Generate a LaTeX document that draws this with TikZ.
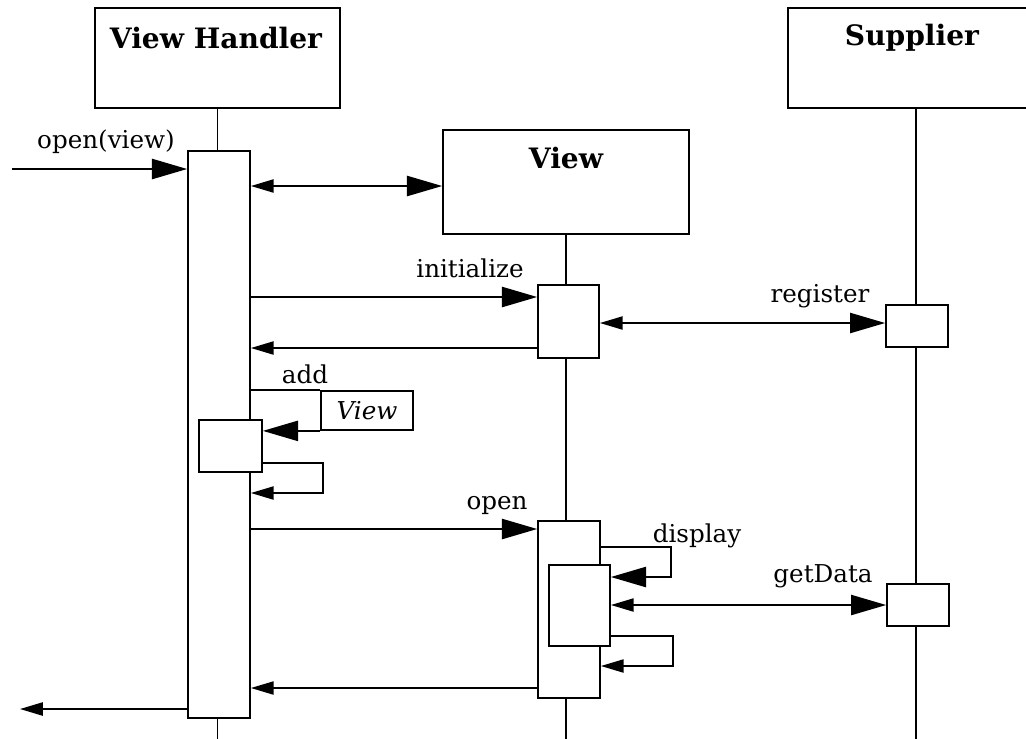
\documentclass[tikz,border=0pt]{standalone}
\usepackage{fontspec}
\setmainfont{DejaVu Serif}
\usetikzlibrary{arrows.meta,fit}
\tikzset{
  obj/.style={draw,line width=1pt,inner sep=0pt},
  act/.style={draw,fill=white,line width=1pt,inner sep=0pt},
  objname/.style={font=\bfseries\fontsize{16}{19}\selectfont},
  msg/.style={font=\fontsize{14}{16}\selectfont,inner sep=0pt},
  life/.style={line width=0.8pt},
  call/.style={line width=1pt,-{Triangle[length=20pt,width=11.5pt]}},
  ret/.style={line width=1pt,-{Triangle[length=13pt,width=7.5pt]}},
  both/.style={line width=1pt,{Triangle[length=13pt,width=7.5pt]}-{Triangle[length=20pt,width=11.5pt]}},
}

\begin{document}
\begin{tikzpicture}[x=0.02cm,y=-0.02cm]
      \useasboundingbox (0,0) rectangle (1026,738);
      % objects
      \node[obj,fit={(95,8) (340,108)}] (vh) {};
      \node[obj,fit={(443,130) (689,234)}] (view) {};
      \node[obj,fit={(788,8) (1044,108)}] (sup) {};
      \node[objname] (vhname) at (216,38) {View Handler};
      \node[objname] (viewname) at (566,158) {View};
      \node[objname] (supname) at (912,38) {Supplier};
      % lifelines
      \draw[life] (vh.south) -- ++(0,630);
      \draw[life] (view.south) -- ++(0,504);
      \draw[life] (sup.south) -- ++(0,630);
      % activations
      \node[act,fit={(188,151) (250,718)}] (hact) {};
      \node[act,fit={(199,420) (262,472)}] (hnest) {};
      \node[act,fit={(538,285) (599,358)}] (vact1) {};
      \node[act,fit={(538,521) (600,698)}] (vact2) {};
      \node[act,fit={(549,565) (610,646)}] (vnest) {};
      \node[act,fit={(886,305) (948,347)}] (sact1) {};
      \node[act,fit={(887,584) (949,626)}] (sact2) {};
      \node[obj,fit={(321,391) (413,430)}] (addview) {};
      \node[msg,font=\itshape\fontsize{14}{16}\selectfont] (lview) at (addview.center) {View};
      \coordinate (start) at (12,169);
      \coordinate (finish) at (20,709);
      % messages
      \draw[call] (start) -- (hact.west |- start);
      \node[msg] (lopen) at (106,142) {open(view)};
      \draw[both] (hact.east |- 0,186) -- (view.west |- 0,186);
      \draw[call] (hact.east |- 0,297) -- (vact1.west |- 0,297);
      \node[msg] (linit) at (470,268) {initialize};
      \draw[ret] (vact1.west |- 0,348) -- (hact.east |- 0,348);
      \draw[both] (vact1.east |- 0,323) -- (sact1.west |- 0,323);
      \node[msg] (lreg) at (820,296) {register};
      \draw[line width=1pt] (hact.east |- addview.north) -- (addview.north west);
      \draw[call] (addview.south west) -- (hnest.east |- addview.south);
      \node[msg] (ladd) at (305,374) {add};
      \draw[ret] (hnest.east |- 0,463) -| (323,493) -- (hact.east |- 0,493);
      \draw[call] (hact.east |- 0,529) -- (vact2.west |- 0,529);
      \node[msg] (lopen2) at (497,505) {open};
      \draw[call] (vact2.east |- 0,547) -| (671,577) -- (vnest.east |- 0,577);
      \node[msg] (ldisp) at (697,536) {display};
      \draw[both] (vnest.east |- 0,605) -- (sact2.west |- 0,605);
      \node[msg] (lget) at (823,576) {getData};
      \draw[ret] (vnest.east |- 0,636) -| (673,666) -- (vact2.east |- 0,666);
      \draw[ret] (vact2.west |- 0,688) -- (hact.east |- 0,688);
      \draw[ret] (hact.west |- finish) -- (finish);
    \end{tikzpicture}
\end{document}
